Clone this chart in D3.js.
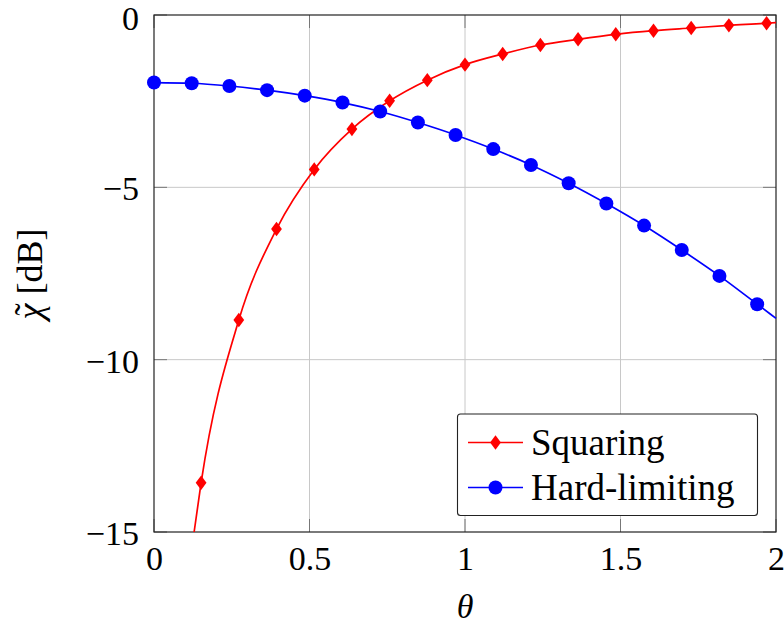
<!DOCTYPE html>
<html>
<head>
<meta charset="utf-8">
<script src="https://cdn.jsdelivr.net/npm/d3@7"></script>
<style>
  html, body { margin: 0; padding: 0; background: #fff; }
  svg { display: block; }
</style>
</head>
<body>
<svg id="chart" width="784" height="630"></svg>
<script>
// ---- data ----
const xTicks = [0, 0.5, 1, 1.5, 2];
const yTicks = [0, -5, -10, -15];

// Hard-limiting: line points (last point is the line end at θ = 2, no marker)
const thetaHard = [0, 0.1212, 0.2424, 0.3636, 0.4848, 0.6061, 0.7273, 0.8485, 0.9697,
                   1.0909, 1.2121, 1.3333, 1.4545, 1.5758, 1.6970, 1.8182, 1.9394, 2.0];
const hardLimiting = [-1.96, -1.98, -2.06, -2.18, -2.34, -2.54, -2.80, -3.12, -3.48,
                      -3.89, -4.35, -4.88, -5.47, -6.11, -6.82, -7.57, -8.39, -8.80];

// Squaring: first point is where the curve leaves the bottom, last is the line end
const thetaSq = [0.129, 0.1515, 0.2727, 0.3939, 0.5152, 0.6364, 0.7576, 0.8788, 1.0,
                 1.1212, 1.2424, 1.3636, 1.4848, 1.6061, 1.7273, 1.8485, 1.9697, 2.0];
const squaring = [-15.0, -13.57, -8.85, -6.21, -4.48, -3.31, -2.49, -1.89, -1.44,
                  -1.13, -0.87, -0.705, -0.56, -0.455, -0.377, -0.30, -0.24, -0.22];

const seriesNames = ["Squaring", "Hard-limiting"];

// ---- layout ----
const FONT = '"Liberation Serif", "Times New Roman", serif';
const svg = d3.select("#chart");
const L = 154, R = 776, T = 15, B = 532;
const x = d3.scaleLinear().domain([0, 2]).range([L, R]);
const y = d3.scaleLinear().domain([-15, 0]).range([B, T]);

// grid
const g = svg.append("g");
g.selectAll(".gx").data(xTicks.filter(d => d > 0 && d < 2)).join("line")
  .attr("x1", d => x(d)).attr("x2", d => x(d)).attr("y1", T).attr("y2", B)
  .attr("stroke", "#c8c8c8").attr("stroke-width", 1);
g.selectAll(".gy").data(yTicks.filter(d => d < 0 && d > -15)).join("line")
  .attr("x1", L).attr("x2", R).attr("y1", d => y(d)).attr("y2", d => y(d))
  .attr("stroke", "#c8c8c8").attr("stroke-width", 1);

// inner tick marks (mirrored)
const tk = 13;
xTicks.forEach(d => {
  g.append("line").attr("x1", x(d)).attr("x2", x(d)).attr("y1", B).attr("y2", B - tk)
    .attr("stroke", "#777").attr("stroke-width", 1);
  g.append("line").attr("x1", x(d)).attr("x2", x(d)).attr("y1", T).attr("y2", T + tk)
    .attr("stroke", "#777").attr("stroke-width", 1);
});
yTicks.forEach(d => {
  g.append("line").attr("x1", L).attr("x2", L + tk).attr("y1", y(d)).attr("y2", y(d))
    .attr("stroke", "#777").attr("stroke-width", 1);
  g.append("line").attr("x1", R).attr("x2", R - tk).attr("y1", y(d)).attr("y2", y(d))
    .attr("stroke", "#777").attr("stroke-width", 1);
});

// axis frame
svg.append("rect").attr("x", L).attr("y", T).attr("width", R - L).attr("height", B - T)
  .attr("fill", "none").attr("stroke", "#222").attr("stroke-width", 1.2);

// tick labels via d3 axes
const fmt = d3.format("~g");
const xAxis = svg.append("g").attr("transform", `translate(0,${B})`)
  .call(d3.axisBottom(x).tickValues(xTicks).tickSize(0).tickPadding(14).tickFormat(fmt));
const yAxis = svg.append("g").attr("transform", `translate(${L},0)`)
  .call(d3.axisLeft(y).tickValues(yTicks).tickSize(0).tickPadding(15).tickFormat(fmt));
[xAxis, yAxis].forEach(a => {
  a.select(".domain").remove();
  a.attr("font-family", null);
  a.selectAll("text").style("font-family", FONT).attr("font-size", 34).attr("fill", "#000");
});
yAxis.selectAll("text").attr("dy", d => d === 0 ? "0.42em" : "0.37em");

// axis titles
svg.append("text").attr("x", x(1)).attr("y", 618).attr("text-anchor", "middle")
  .style("font-family", FONT).attr("font-size", 34).attr("font-style", "italic").text("θ");

const yg = svg.append("g").attr("transform", "translate(42,274) rotate(-90)");
const yl = yg.append("text").attr("x", 0).attr("y", 0)
  .style("font-family", FONT).attr("font-size", 36);
const chi = yl.append("tspan").attr("font-style", "italic").text("χ");
yl.append("tspan").text(" [dB]");
const total = yl.node().getComputedTextLength();
const chiW = chi.node().getComputedTextLength();
yl.attr("x", -total / 2);
yg.append("text").attr("x", -total / 2 + chiW / 2 + 2).attr("y", -2)
  .attr("text-anchor", "middle").style("font-family", FONT).attr("font-size", 36).text("˜");

// series
const line = d3.line().curve(d3.curveMonotoneX).x(d => x(d[0])).y(d => y(d[1]));
const sqPts = thetaSq.map((t, i) => [t, squaring[i]]);
const hlPts = thetaHard.map((t, i) => [t, hardLimiting[i]]);

const diamond = (cx, cy) => `M${cx},${cy - 7.2}L${cx + 5.4},${cy}L${cx},${cy + 7.2}L${cx - 5.4},${cy}Z`;

svg.append("path").datum(sqPts).attr("d", line)
  .attr("fill", "none").attr("stroke", "#ff0000").attr("stroke-width", 1.7);
svg.selectAll(".dm").data(sqPts.slice(1, -1)).join("path")
  .attr("d", d => diamond(x(d[0]), y(d[1]))).attr("fill", "#ff0000");

svg.append("path").datum(hlPts).attr("d", line)
  .attr("fill", "none").attr("stroke", "#0000ff").attr("stroke-width", 1.7);
svg.selectAll(".ci").data(hlPts.slice(0, -1)).join("circle")
  .attr("cx", d => x(d[0])).attr("cy", d => y(d[1])).attr("r", 7).attr("fill", "#0000ff");

// legend
const lg = svg.append("g");
lg.append("rect").attr("x", 457.5).attr("y", 414).attr("width", 300).attr("height", 101.5)
  .attr("rx", 3).attr("fill", "#fff").attr("stroke", "#222").attr("stroke-width", 1.1);
const rows = [
  { name: seriesNames[0], color: "#ff0000", y: 442.5, mark: "d" },
  { name: seriesNames[1], color: "#0000ff", y: 487.5, mark: "c" }
];
rows.forEach(r => {
  lg.append("line").attr("x1", 468).attr("x2", 523).attr("y1", r.y).attr("y2", r.y)
    .attr("stroke", r.color).attr("stroke-width", 1.7);
  if (r.mark === "d") lg.append("path").attr("d", diamond(495.5, r.y)).attr("fill", r.color);
  else lg.append("circle").attr("cx", 495.5).attr("cy", r.y).attr("r", 7).attr("fill", r.color);
  lg.append("text").attr("x", 531).attr("y", r.y + 12).style("font-family", FONT)
    .attr("font-size", 37).text(r.name);
});
</script>
</body>
</html>
